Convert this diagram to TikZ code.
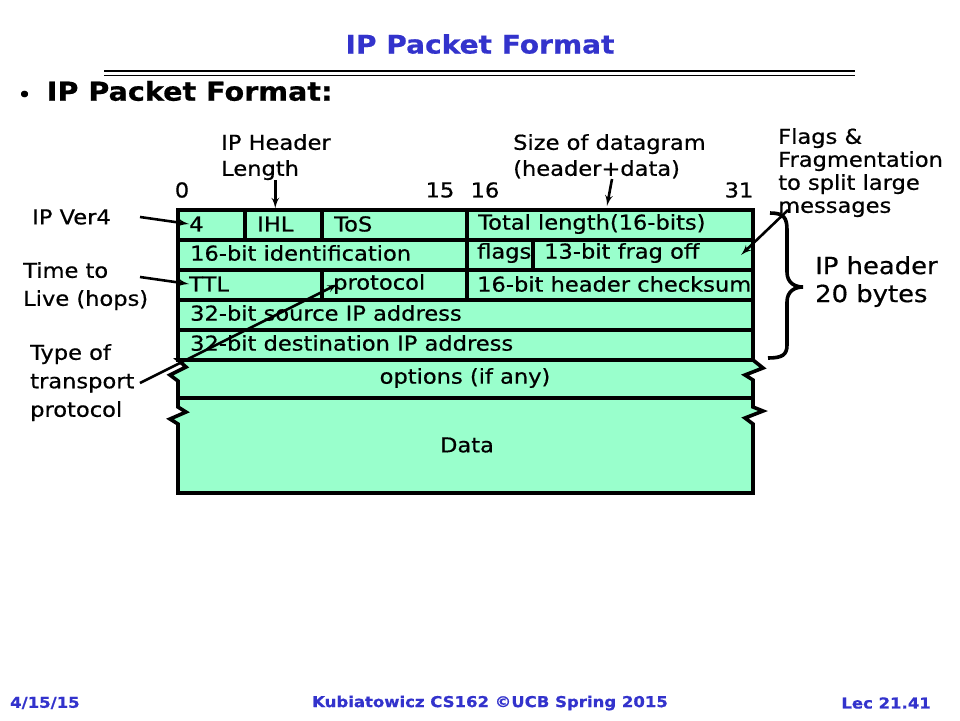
\documentclass[tikz,border=0pt]{standalone}
\usepackage{fontspec}
\setmainfont[FakeStretch=1.1,FakeBold=0.6]{DejaVu Sans}
\usetikzlibrary{arrows,positioning}
\definecolor{pktfill}{RGB}{153,255,204}
\definecolor{slideblue}{RGB}{51,51,204}

\begin{document}
\begin{tikzpicture}[x=1pt,y=-1pt,
		lbl/.style={font=\fontsize{20.5}{26}\selectfont, align=left, inner sep=0pt, anchor=north west},
		fld/.style={font=\fontsize{20.5}{22}\selectfont, inner sep=0pt, anchor=west},
		box/.style={fill=pktfill, draw=black, line width=3.6pt, line join=miter},
		foot/.style={font=\fontsize{15}{18}\selectfont\bfseries, text=slideblue, inner sep=0pt},
		arr/.style={->, line width=2.6pt},
		>=latex']
	\useasboundingbox (0,0) rectangle (960,720);
	% title and bullet
	\node[font=\fontsize{25.5}{30}\selectfont\bfseries, text=slideblue] (title) at (480,44) {IP Packet Format};
	\draw[line width=2pt] (104,71) -- (855,71);
	\draw[line width=1pt] (104,75) -- (855,75);
	\node[font=\fontsize{26}{30}\selectfont\bfseries, anchor=west, inner sep=0pt] (bullet) at (18,91)
		{{\fontsize{18}{20}\selectfont\textbullet}\hspace{16pt}IP Packet Format:};
	% header rows
	\foreach \y in {210,240,270,300,330}
		\filldraw[box] (178,\y) rectangle (753,\y+30);
	\draw[line width=3.6pt] (245,210) -- (245,240) (322,210) -- (322,240) (467,210) -- (467,300)
		(533,240) -- (533,270) (322,270) -- (322,300);
	% options and data
	\filldraw[box] (178,360) -- (753,360) -- (763,368) -- (745,375) -- (753,380) -- (753,398)
		-- (178,398) -- (178,381) -- (170,375) -- (186,367) -- cycle;
	\filldraw[box] (178,398) -- (753,398) -- (753,407) -- (763,411) -- (745,418) -- (753,424) -- (753,493)
		-- (178,493) -- (178,424) -- (170,419) -- (186,412) -- (178,407) -- cycle;
	% field texts
	\node[fld] (ver) at (189,224) {4};
	\node[fld] (ihl) at (257,224) {IHL};
	\node[fld] (tos) at (334,224) {ToS};
	\node[fld] (tlen) at (478,224) {Total length(16-bits)};
	\node[fld] (ident) at (190,253) {16-bit identification};
	\node[fld] (flags) at (477,253) {flags};
	\node[fld] (frag) at (544,253) {13-bit frag off};
	\node[fld] (ttl) at (189,284) {TTL};
	\node[fld] (proto) at (333,284) {protocol};
	\node[fld] (csum) at (477,284) {16-bit header checksum};
	\node[fld] (src) at (190,313) {32-bit source IP address};
	\node[fld] (dst) at (190,343) {32-bit destination IP address};
	\node[fld, anchor=center] (opts) at (465,378) {options (if any)};
	\node[fld, anchor=center] (data) at (467,445) {Data};
	% bit numbers
	\node[fld, anchor=center] (b0) at (182,190) {0};
	\node[fld, anchor=center] (b15) at (440,190) {15};
	\node[fld, anchor=center] (b16) at (485,190) {16};
	\node[fld, anchor=center] (b31) at (739,190) {31};
	% annotations
	\node[lbl] (hlen) at (221,134) {IP Header\\Length};
	\node[lbl] (size) at (513,134) {Size of datagram\\(header+data)};
	\node[lbl, font=\fontsize{20.5}{23}\selectfont] (frg) at (778,128) {Flags \&\\Fragmentation\\to split large\\messages};
	\node[lbl, anchor=west] (ipv) at (32,217) {IP Ver4};
	\node[lbl, font=\fontsize{20.5}{28}\selectfont] (life) at (23,262) {Time to\\Live (hops)};
	\node[lbl, font=\fontsize{20.5}{28.5}\selectfont] (type) at (30,344) {Type of\\transport\\protocol};
	\node[lbl, font=\fontsize{23.5}{28}\selectfont] (hdr) at (815,256) {IP header\\20 bytes};
	% arrows
	\coordinate (c1) at (140,217);
	\coordinate (c2) at (140,277);
	\coordinate (c3) at (140,383);
	\coordinate (c4) at (612,179);
	\coordinate (c5) at (788,210);
	\coordinate (c6) at (741,255);
	\draw[arr] (c1) -- (ver.west);
	\draw[arr] (c2) -- (ttl.west);
	\draw[arr] (c3) -- ([xshift=5pt]proto.west);
	\draw[arr] (ihl.north |- hlen.south) -- ([yshift=8pt]ihl.north);
	\draw[arr] (c4) -- ([yshift=8pt]tlen.north -| 607,0);
	\draw[arr] (c5) -- (c6);
	% brace
	\draw[line width=3.6pt] (770,213) .. controls (784,213) and (787,218) .. (787,230) -- (787,272)
		.. controls (787,283) and (795,287) .. (803,287) .. controls (795,287) and (787,291) .. (787,302)
		-- (787,345) .. controls (787,355) and (782,358) .. (768,358);
	% footer
	\node[foot, anchor=west] (date) at (10,703) {4/15/15};
	\node[foot] (course) at (490,703) {Kubiatowicz CS162 ©UCB Spring 2015};
	\node[foot, anchor=east] (lec) at (931,703) {Lec 21.41};
\end{tikzpicture}
\end{document}
